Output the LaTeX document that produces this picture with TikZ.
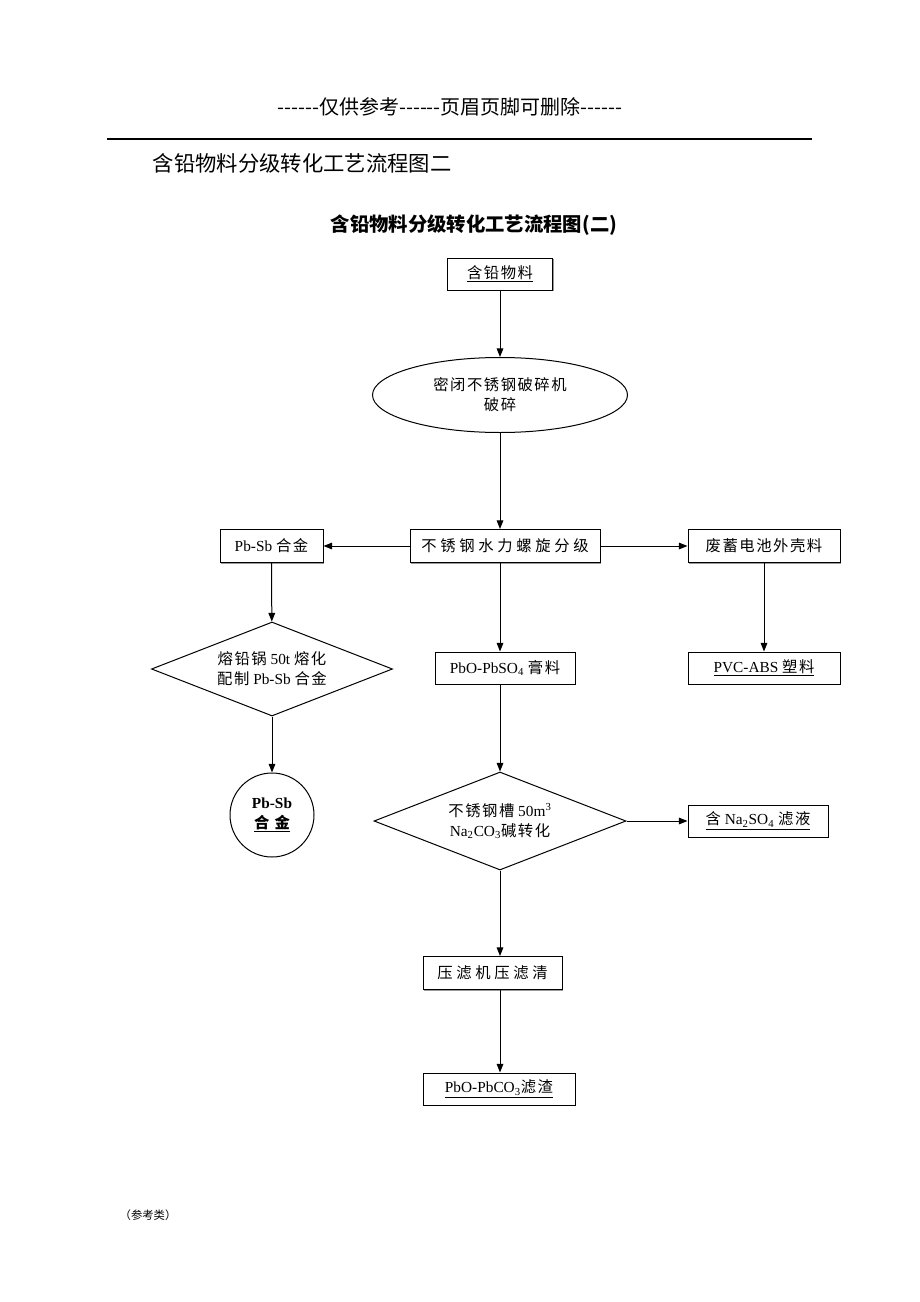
\documentclass[tikz,border=0pt]{standalone}
\usepackage{fontspec}
\setmainfont{Liberation Serif}
\newfontfamily\cjk{Noto Sans CJK SC}[LetterSpace=10]
\newfontfamily\cjkw{Noto Sans CJK SC}[LetterSpace=24]
\newfontfamily\cjkplain{Noto Sans CJK SC}
\newcommand{\zh}[1]{{\cjk #1}}
\newcommand{\zhw}[1]{{\cjkw #1}}
\usetikzlibrary{shapes.geometric,arrows.meta,shadows}

\begin{document}
\begin{tikzpicture}[x=0.75pt, y=-0.75pt,
    every node/.style={font=\fontsize{11.5}{15}\selectfont, align=center},
    box/.style={draw, fill=white, line width=0.75pt, inner sep=0pt,
      drop shadow={shadow xshift=1.1pt, shadow yshift=-1.1pt, fill=black!40, opacity=1}},
    dia/.style={draw, diamond, line width=0.75pt, inner sep=0pt, aspect=2.5},
    arr/.style={draw, line width=0.75pt, -{Triangle[length=6.5pt,width=5pt]}}]
      \useasboundingbox (0,0) rectangle (920,1302);

      % page head
      \node (head) at (450,107) {\cjkplain\fontsize{15}{17}\selectfont ------仅供参考------页眉页脚可删除------};
      \draw[line width=0.8pt] (107,139) -- (812,139);
      \node[anchor=west] (caption) at (148,163) {\cjkplain\fontsize{16}{18}\selectfont 含铅物料分级转化工艺流程图二};
      \node (title) at (474,225) {\cjkplain\bfseries\fontsize{14.5}{17}\selectfont 含铅物料分级转化工艺流程图(二)};

      % main column
      \node[box, minimum width=78.75pt, minimum height=24pt] (feed) at (500,274) {\underline{\zh{含铅物料}}};
      \node[draw, ellipse, line width=0.75pt, minimum width=191.25pt, minimum height=56.25pt, inner sep=0pt] (crush) at (500,395) {\zh{密闭不锈钢破碎机}\\\zh{破碎}};
      \node[box, minimum width=142.5pt, minimum height=24.75pt] (sep) at (505,546) {\zhw{不锈钢水力螺旋分级}};
      \node[box, minimum width=105pt, minimum height=24pt] (paste) at (505,668) {PbO-PbSO\textsubscript{4} \zh{膏料}};
      \node[dia, minimum width=189pt, minimum height=73.5pt] (conv) at (500,821) {\zh{不锈钢槽} 50m\textsuperscript{3}\\Na\textsubscript{2}CO\textsubscript{3}\zh{碱转化}};
      \node[box, minimum width=104.25pt, minimum height=24.75pt] (press) at (492.5,973) {\zhw{压滤机压滤清}};
      \node[box, minimum width=114pt, minimum height=24pt] (cake) at (499,1089) {\underline{PbO-PbCO\textsubscript{3}\zh{滤渣}}};

      % left branch
      \node[box, minimum width=77.25pt, minimum height=24.75pt] (alloy) at (271.5,546) {Pb-Sb \zh{合金}};
      \node[dia, minimum width=180.75pt, minimum height=70.5pt] (melt) at (272,669) {\zh{熔铅锅} 50t \zh{熔化}\\\zh{配制} Pb-Sb \zh{合金}};
      \node[draw, circle, line width=0.75pt, minimum size=63pt, inner sep=0pt] (ingot) at (272,815) {\textbf{Pb-Sb}\\\underline{\zh{\bfseries 合 金}}};

      % right branch
      \node[box, minimum width=114pt, minimum height=24.75pt] (shell) at (764,546) {\zh{废蓄电池外壳料}};
      \node[box, minimum width=114pt, minimum height=24pt] (pvc) at (764,668) {\underline{PVC-ABS \zh{塑料}}};
      \node[box, minimum width=105pt, minimum height=24pt] (filtrate) at (758,821) {\underline{\zh{含} Na\textsubscript{2}SO\textsubscript{4} \zh{滤液}}};

      \node[anchor=west] (note) at (115,1215) {\cjkplain\fontsize{8.5}{10}\selectfont （参考类）};

      \draw[arr] (feed) -- (crush);
      \draw[arr] (crush.south) -- (crush.south |- sep.north);
      \draw[arr] (sep) -- (alloy);
      \draw[arr] (sep) -- (shell);
      \draw[arr] (sep.south -| crush) -- (paste.north -| crush);
      \draw[arr] (paste.south -| crush) -- (conv.north);
      \draw[arr] (conv) -- (filtrate);
      \draw[arr] (conv.south) -- (conv.south |- press.north);
      \draw[arr] (press.south -| conv) -- (cake.north -| conv);
      \draw[arr] (alloy) -- (melt);
      \draw[arr] (melt) -- (ingot);
      \draw[arr] (shell) -- (pvc);

    \end{tikzpicture}
\end{document}
